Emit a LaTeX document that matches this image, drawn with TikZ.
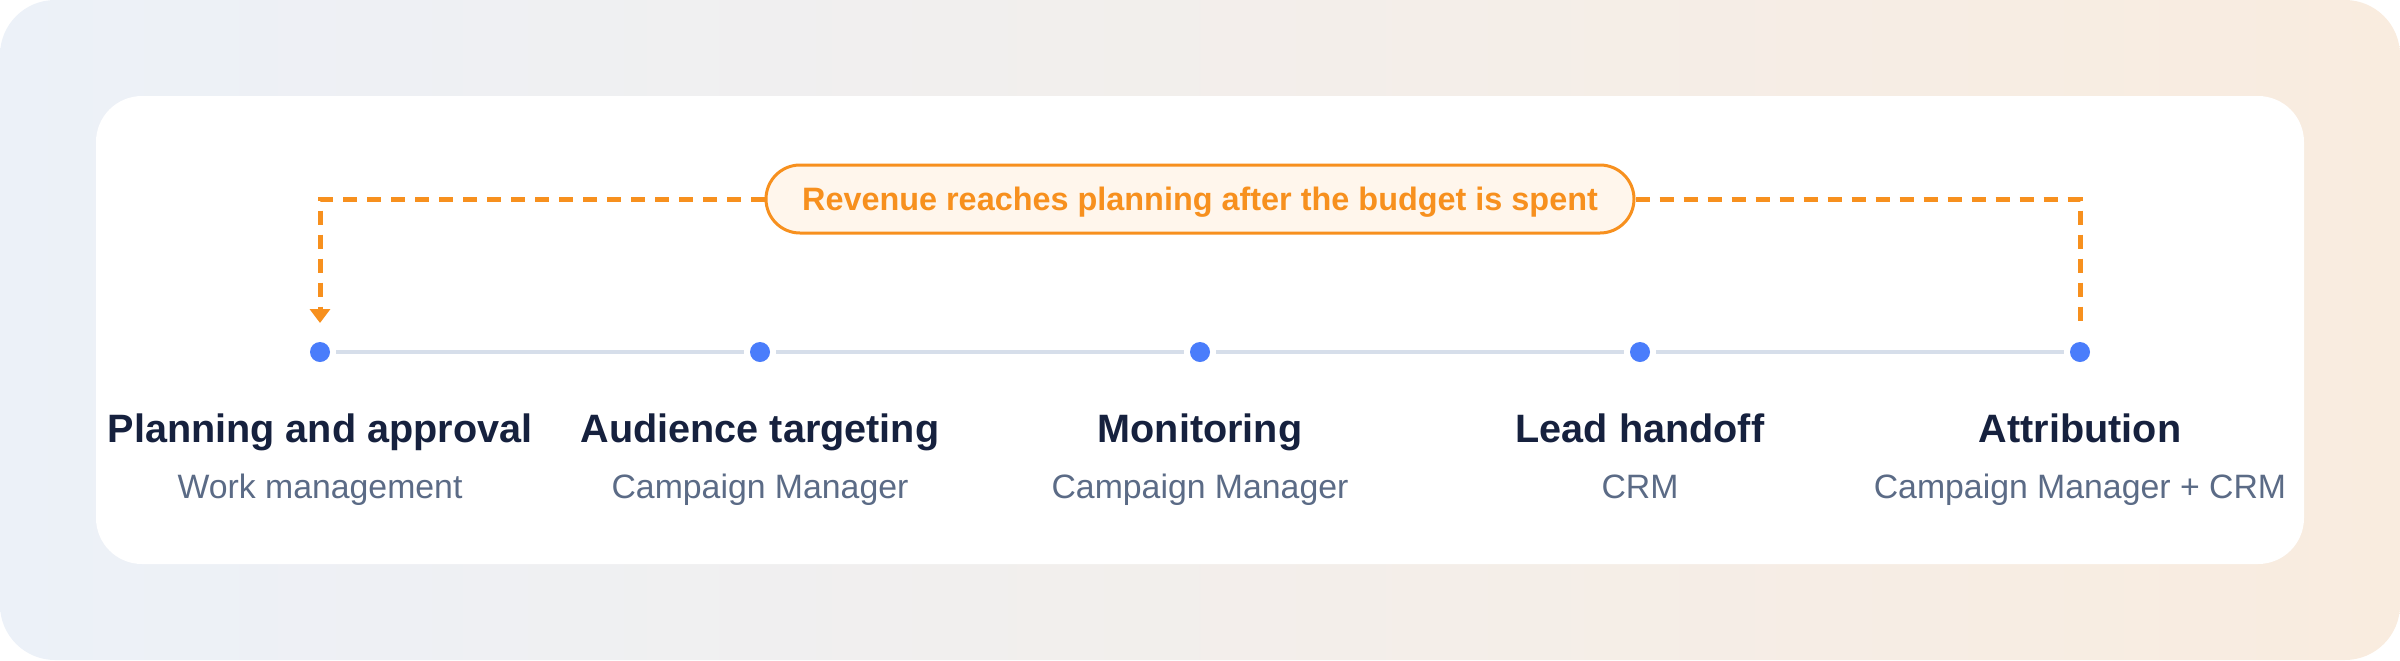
\documentclass[tikz,border=0pt]{standalone}
\usepackage{fontspec}
\setmainfont{Liberation Sans}
\usetikzlibrary{arrows.meta}
\definecolor{bgL}{HTML}{ECF1F8}
\definecolor{bgR}{HTML}{F9ECDF}
\definecolor{navy}{HTML}{16213E}
\definecolor{slate}{HTML}{5B6B86}
\definecolor{orng}{HTML}{F7901E}
\definecolor{pillfill}{HTML}{FFF6EC}
\definecolor{dotblue}{HTML}{4A7DFB}
\definecolor{track}{HTML}{D6DEEA}
\begin{document}
\begin{tikzpicture}[x=0.5pt,y=-0.5pt,
  dotnode/.style={circle,fill=dotblue,inner sep=0pt,minimum size=10pt},
  titlenode/.style={anchor=base,text=navy,inner sep=0pt,font=\fontsize{19.8pt}{22pt}\selectfont\bfseries},
  subnode/.style={anchor=base,text=slate,inner sep=0pt,font=\fontsize{16.9pt}{20pt}\selectfont},
  trackline/.style={draw=track,line width=1.75pt,shorten <=3pt,shorten >=3pt},
  loopline/.style={draw=orng,line width=2.5pt,dash pattern=on 7pt off 5pt},
  pillnode/.style={draw=orng,line width=1.5pt,fill=pillfill,rounded corners=17pt,
    minimum width=434pt,minimum height=34pt,inner sep=0pt,text height=11.6pt,text depth=0pt,
    text=orng,font=\fontsize{16.2pt}{19pt}\selectfont\bfseries}]
\useasboundingbox (0,0) rectangle (2400,660);
\shade[left color=bgL,right color=bgR,rounded corners=27.5pt] (0,0) rectangle (2400,660);
\fill[white,rounded corners=23pt] (96,96) rectangle (2304,564);
% timeline
\node[dotnode] (d1) at (320,352) {};
\node[dotnode] (d2) at (760,352) {};
\node[dotnode] (d3) at (1200,352) {};
\node[dotnode] (d4) at (1640,352) {};
\node[dotnode] (d5) at (2080,352) {};
\draw[trackline] (d1) -- (d2);
\draw[trackline] (d2) -- (d3);
\draw[trackline] (d3) -- (d4);
\draw[trackline] (d4) -- (d5);
% labels
\node[titlenode] (t1) at (320,442) {Planning and approval};
\node[titlenode] (t2) at (760,442) {Audience targeting};
\node[titlenode] (t3) at (1200,442) {Monitoring};
\node[titlenode] (t4) at (1640,442) {Lead handoff};
\node[titlenode] (t5) at (2080,442) {Attribution};
\node[subnode] (s1) at (320,498) {Work management};
\node[subnode] (s2) at (760,498) {Campaign Manager};
\node[subnode] (s3) at (1200,498) {Campaign Manager};
\node[subnode] (s4) at (1640,498) {CRM};
\node[subnode] (s5) at (2080,498) {Campaign Manager + CRM};
% feedback loop
\node[pillnode] (pill) at (1200,199) {Revenue reaches planning after the budget is spent};
\coordinate (lend) at (320,323);
\coordinate (rend) at (2080,323);
\draw[loopline,-{Triangle[width=10pt,length=7pt]}] (pill.west) -| (lend);
\draw[loopline] (pill.east) -| (rend);
\end{tikzpicture}
\end{document}
